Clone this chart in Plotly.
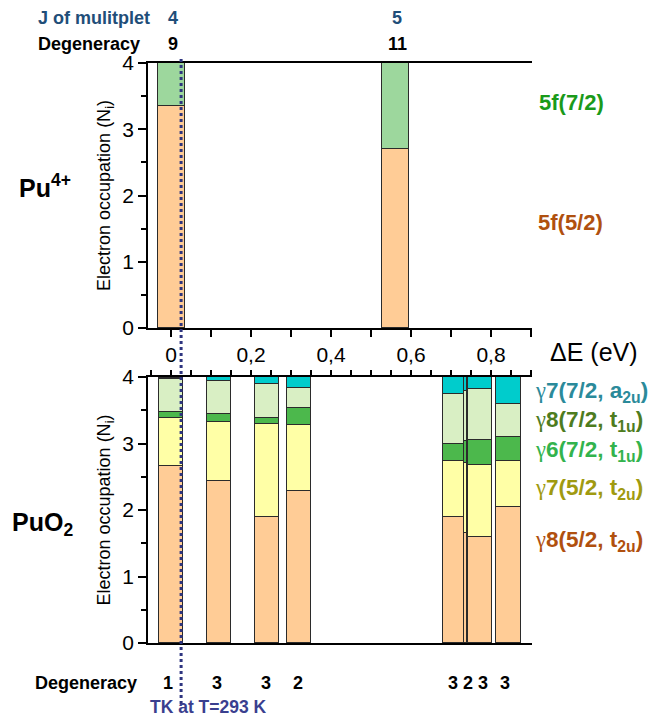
import plotly.graph_objects as go

# ---------------- data ----------------
# Pu4+ (free ion): J multiplets
pu_x = [0.0, 0.561]
pu_j = ["4", "5"]
pu_deg = ["9", "11"]
pu_52 = [3.35, 2.70]   # 5f(5/2)
pu_72 = [0.65, 1.30]   # 5f(7/2)

# PuO2 crystal-field levels
puo2_x = [0.0, 0.12, 0.24, 0.32, 0.706, 0.736, 0.7725, 0.844]
puo2_deg = ["1", "3", "3", "2", "3", "2", "3", "3"]
g8_52 = [2.66, 2.44, 1.90, 2.29, 1.90, 1.66, 1.60, 2.05]   # γ8(5/2, t2u)
g7_52 = [0.72, 0.88, 1.40, 0.99, 0.84, 1.05, 1.07, 0.69]   # γ7(5/2, t2u)
g6_72 = [0.10, 0.13, 0.08, 0.25, 0.26, 0.33, 0.39, 0.36]   # γ6(7/2, t1u)
g8_72 = [0.49, 0.49, 0.51, 0.30, 0.75, 0.75, 0.76, 0.49]   # γ8(7/2, t1u)
g7_72 = [0.02, 0.06, 0.11, 0.17, 0.25, 0.21, 0.18, 0.41]   # γ7(7/2, a2u)

x_ticks = [0, 0.2, 0.4, 0.6, 0.8]
x_ticktext = ["0", "0,2", "0,4", "0,6", "0,8"]
y_ticks = [0, 1, 2, 3, 4]
kT = 0.02525  # eV at 293 K

# ---------------- styles ----------------
W, H = 654, 717
FONT = "Liberation Sans, Arial, sans-serif"
top_w = [0.0675, 0.0675]
bot_w = [0.06, 0.06, 0.06, 0.06, 0.0525, 0.0075, 0.06, 0.0625]
deg_shift = [-3, -2, -1, -1, 0, 3, 3, -4]
OUT = dict(color="#2b2b2b", width=1)

def px(x):
    return x / W

def py(y):
    return 1 - y / H

fig = go.Figure()

# top panel
fig.add_trace(go.Bar(x=pu_x, y=pu_52, width=top_w, marker=dict(color="#FFCC96", line=OUT),
                     xaxis="x", yaxis="y", showlegend=False))
fig.add_trace(go.Bar(x=pu_x, y=pu_72, width=top_w, marker=dict(color="#9DD79D", line=OUT),
                     xaxis="x", yaxis="y", showlegend=False))

# bottom panel
for vals, col in [(g8_52, "#FFCC96"), (g7_52, "#FFFFA6"), (g6_72, "#4CB84C"),
                  (g8_72, "#D9EFC4"), (g7_72, "#00CCCC")]:
    fig.add_trace(go.Bar(x=puo2_x, y=vals, width=bot_w, marker=dict(color=col, line=OUT),
                         xaxis="x2", yaxis="y2", showlegend=False))

xdom = [px(148), px(532)]
xr = [-0.0575, 0.9025]
YT = dict(text="Electron occupation (N<sub>i</sub>)", font=dict(size=18), standoff=7)

fig.update_layout(
    width=W, height=H, margin=dict(l=0, r=0, t=0, b=0, pad=0, autoexpand=False),
    paper_bgcolor="white", plot_bgcolor="white",
    barmode="stack", bargap=0,
    font=dict(family=FONT, color="black"),
    xaxis=dict(domain=xdom, range=xr, anchor="y", automargin=False, showline=True, linecolor="black",
               linewidth=1.5, mirror=True, ticks="outside", ticklen=7, tickwidth=1.5, tickcolor="black",
               tickvals=x_ticks, ticktext=x_ticktext, tickfont=dict(size=21),
               minor=dict(tick0=0, dtick=0.1, ticks="outside", ticklen=7, tickwidth=1.5, tickcolor="black"),
               showgrid=False, zeroline=False),
    yaxis=dict(domain=[py(328), py(63)], range=[0, 4], anchor="x", automargin=False, showline=True,
               linecolor="black", linewidth=1.5, ticks="outside", ticklen=8, tickwidth=1.5, tickcolor="black",
               tickvals=y_ticks, tickfont=dict(size=21),
               minor=dict(tick0=0, dtick=0.5, ticks="outside", ticklen=5, tickwidth=1.5, tickcolor="black"),
               title=YT, showgrid=False, zeroline=False),
    xaxis2=dict(domain=xdom, range=xr, anchor="y2", side="top", automargin=False, showline=True,
                linecolor="black", linewidth=1.5, mirror=True, ticks="outside", ticklen=5, tickwidth=1.5,
                tickcolor="black", tick0=0, dtick=0.05, showticklabels=False, showgrid=False, zeroline=False),
    yaxis2=dict(domain=[py(643), py(377)], range=[0, 4], anchor="x2", automargin=False, showline=True,
                linecolor="black", linewidth=1.5, ticks="outside", ticklen=8, tickwidth=1.5, tickcolor="black",
                tickvals=y_ticks, tickfont=dict(size=21),
                minor=dict(tick0=0, dtick=0.5, ticks="outside", ticklen=5, tickwidth=1.5, tickcolor="black"),
                title=YT, showgrid=False, zeroline=False),
)

# kT dotted line
fig.add_shape(type="line", xref="x", yref="paper", x0=kT, x1=kT, y0=py(704), y1=py(58),
              line=dict(color="#2e3580", width=3, dash="dot"), layer="above")

ann = []

def txt(text, x, y, size, color="black", xanchor="left", xref="paper", bold=True, xshift=0):
    ann.append(dict(text=("<b>%s</b>" % text) if bold else text, x=x, y=y, xref=xref, yref="paper",
                    xanchor=xanchor, yanchor="middle", showarrow=False, xshift=xshift,
                    font=dict(size=size, color=color, family=FONT)))

BLUE = "#1f4e79"
txt("J of mulitplet", px(36), py(18), 18, BLUE)
txt("Degeneracy", px(36), py(44), 18)
for xv, j, d in zip(pu_x, pu_j, pu_deg):
    txt(j, xv, py(18), 18, BLUE, xanchor="center", xref="x", xshift=2)
    txt(d, xv, py(44), 18, xanchor="center", xref="x", xshift=2)

txt("Pu<sup>4+</sup>", px(17), py(186), 25)
txt("PuO<sub>2</sub>", px(10), py(524), 25)

txt("5f(7/2)", px(537), py(102), 22, "#1a9a1a")
txt("5f(5/2)", px(536), py(222), 22, "#b0500f")

txt("ΔE (eV)", px(548), py(352), 25, bold=False)

G = "<span style=\"font-weight:normal;font-family:'Liberation Serif'\">γ</span>"
gl = [
    (G + "7(7/2, a<sub>2u</sub>)", 392, "#2b8a9a"),
    (G + "8(7/2, t<sub>1u</sub>)", 421, "#4e7c1f"),
    (G + "6(7/2, t<sub>1u</sub>)", 451, "#33b34d"),
    (G + "7(5/2, t<sub>2u</sub>)", 489, "#a09a10"),
    (G + "8(5/2, t<sub>2u</sub>)", 541, "#b0500f"),
]
for t, yy, c in gl:
    txt(t, px(533), py(yy), 22.5, c)

txt("Degeneracy", px(33), py(683), 18)
for xv, d, s in zip(puo2_x, puo2_deg, deg_shift):
    txt(d, xv, py(683), 18, xanchor="center", xref="x", xshift=s)

txt("TK at T=293 K", px(148), py(707), 17.5, "#3a3f8f")

fig.update_layout(annotations=ann)
fig.write_html("out.html")
